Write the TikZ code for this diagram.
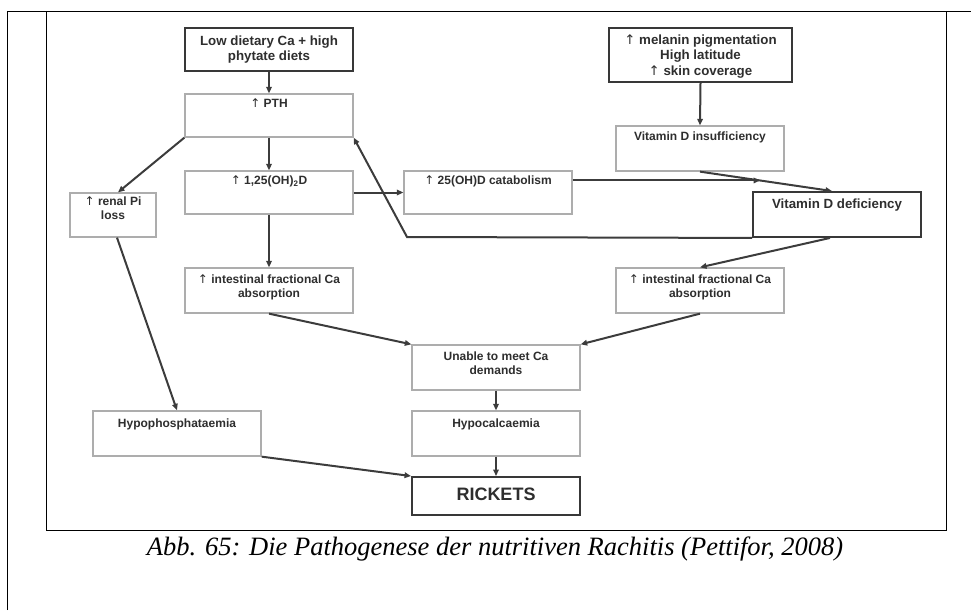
\documentclass[tikz,border=0pt]{standalone}
\usepackage{fontspec}
\setmainfont{Liberation Serif}
\setsansfont{Liberation Sans}
\newfontfamily\uparrowfont{DejaVu Sans}
\newcommand{\upar}{{\uparrowfont\mdseries ↑}}
\usetikzlibrary{arrows.meta,calc}
\definecolor{boxgray}{HTML}{ADADAD}
\definecolor{darkline}{HTML}{383838}
\definecolor{textgray}{HTML}{2E2E2E}
\definecolor{arrowgray}{HTML}{3C3C3C}
\begin{document}
\begin{tikzpicture}[x=1pt,y=-1pt,
  box/.style={draw=boxgray, line width=1.3pt, fill=white, minimum width=168pt, minimum height=45pt, inner sep=0pt},
  thickbox/.style={box, draw=darkline, line width=1.9pt},
  lbl/.style={font=\sffamily\bfseries\fontsize{12}{14}\selectfont, text=textgray, align=center, inner sep=0pt, anchor=north},
  biglbl/.style={font=\sffamily\bfseries\fontsize{13.3}{15.5}\selectfont, text=textgray, align=center, inner sep=0pt},
  arr/.style={draw=arrowgray, line width=2pt, -{Triangle[length=6.5pt,width=5.5pt]}},
  frameline/.style={draw=black, line width=1pt}]
\useasboundingbox (0,0) rectangle (971,610);

% table frame
\draw[frameline] (7,610) -- (7,12) -- (971,12);
\draw[frameline] (46,12) -- (46,530) -- (946,530) -- (946,12);

% boxes
\node[thickbox, minimum height=43pt] (low) at (269,49.5) {};
\node[box, minimum height=43pt] (pth) at (269,115.5) {};
\node[box, minimum height=43pt] (d125) at (269,192.5) {};
\node[box, minimum width=86pt, minimum height=44pt] (renal) at (113,215) {};
\node[box] (intL) at (269,290.5) {};
\node[box, minimum height=43pt] (cat) at (488,192.5) {};
\node[thickbox, minimum width=183pt, minimum height=54pt] (mel) at (700.5,55) {};
\node[box] (ins) at (700,148.5) {};
\node[thickbox] (def) at (837,214.5) {};
\node[box] (intR) at (700,290.5) {};
\node[box] (unable) at (496,367.5) {};
\node[box] (hypoP) at (177,433.5) {};
\node[box] (hypoC) at (496,433.5) {};
\node[thickbox, minimum height=38pt] (rick) at (496,496) {};

% labels
\node[biglbl] (lowT) at (low.center) {Low dietary Ca + high\\phytate diets};
\node[lbl] (pthT) at ([yshift=-5pt]pth.north) {\upar{} PTH};
\node[lbl] (d125T) at ([yshift=-5pt]d125.north) {\upar{} 1,25(OH)\textsubscript{2}D};
\node[lbl] (renalT) at ([yshift=-4pt]renal.north) {\upar{} renal Pi\\loss};
\node[lbl] (intLT) at ([yshift=-7pt]intL.north) {\upar{} intestinal fractional Ca\\absorption};
\node[lbl] (catT) at ([yshift=-5pt]cat.north) {\upar{} 25(OH)D catabolism};
\node[biglbl] (melT) at ([yshift=-1.5pt]mel.center) {\upar{} melanin pigmentation\\High latitude\\\upar{} skin coverage};
\node[lbl] (insT) at ([yshift=-6pt]ins.north) {Vitamin D insufficiency};
\node[biglbl, anchor=north] (defT) at ([yshift=-8pt]def.north) {Vitamin D deficiency};
\node[lbl] (intRT) at ([yshift=-7pt]intR.north) {\upar{} intestinal fractional Ca\\absorption};
\node[lbl] (unableT) at ([yshift=-7pt]unable.north) {Unable to meet Ca\\demands};
\node[lbl] (hypoPT) at ([yshift=-8pt]hypoP.north) {Hypophosphataemia};
\node[lbl] (hypoCT) at ([yshift=-8pt]hypoC.north) {Hypocalcaemia};
\node[font=\sffamily\bfseries\fontsize{18}{20}\selectfont, text=textgray, inner sep=0pt] (rickT) at ([yshift=2pt]rick.center) {RICKETS};

% helper coordinates
\coordinate (defN) at ([xshift=-5pt]def.north);
\coordinate (join) at ($(ins.south)!0.455!(defN)$);
\coordinate (bend) at (407,237);

% connectors
\draw[arr] (low.south) -- (pth.north);
\draw[arr] (pth.south) -- (d125.north);
\draw[arr] (pth.south west) -- ([xshift=5pt]renal.north);
\draw[arr] (d125.south) -- (intL.north);
\draw[arr] (d125.east) -- (cat.west);
\draw[arr] (cat.east |- join) -- (join);
\draw[arr] (mel.south) -- (ins.north);
\draw[arr] (ins.south) -- (defN);
\draw[arr] (def.south west) -- (bend) -- (pth.south east);
\draw[arr] ([xshift=-7pt]def.south) -- (intR.north);
\draw[arr] (intL.south) -- (unable.north west);
\draw[arr] (intR.south) -- (unable.north east);
\draw[arr] ([xshift=4pt]renal.south) -- (hypoP.north);
\draw[arr] (unable.south) -- (hypoC.north);
\draw[arr] (hypoC.south) -- (rick.north);
\draw[arr] (hypoP.south east) -- (rick.north west);

% caption
\node[font=\itshape\fontsize{26.5}{30}\selectfont, anchor=base, inner sep=0pt] (cap) at (495,555) {Abb. 65: Die Pathogenese der nutritiven Rachitis (Pettifor, 2008)};
\end{tikzpicture}
\end{document}
